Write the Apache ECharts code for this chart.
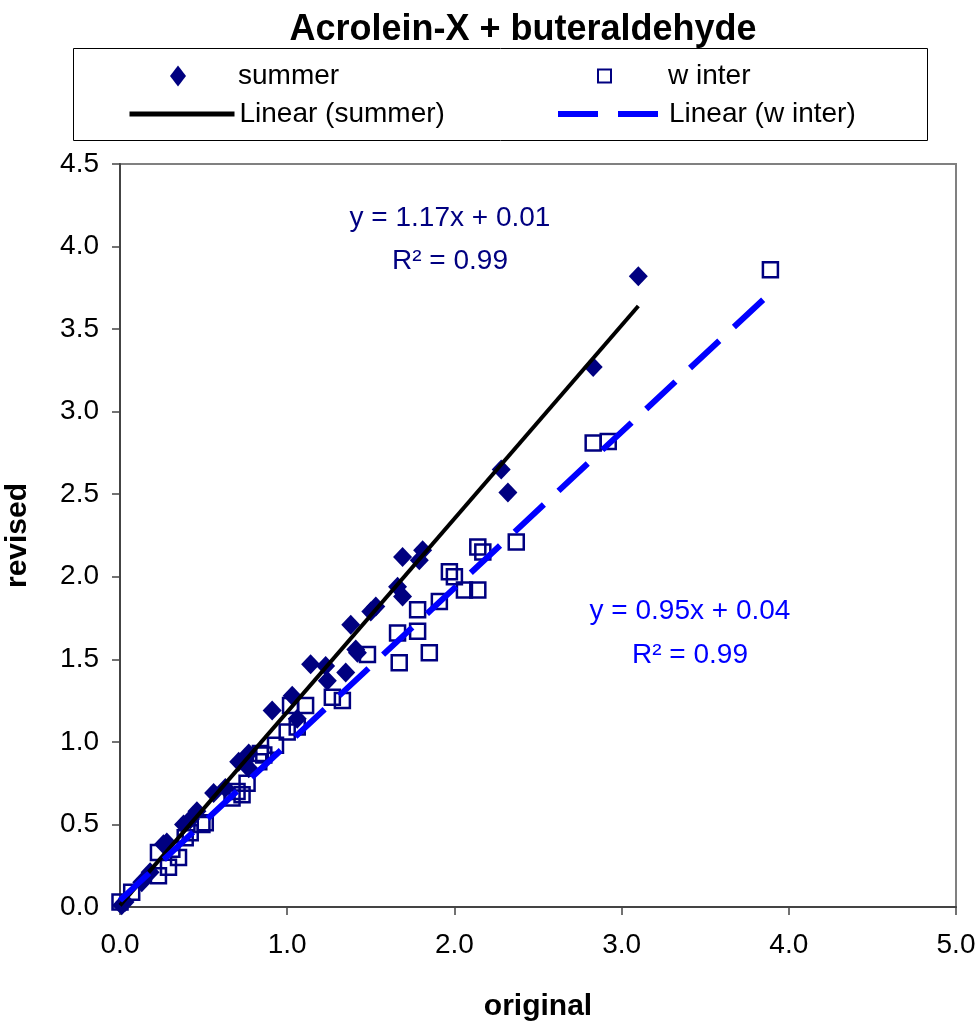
<!DOCTYPE html>
<html><head><meta charset="utf-8">
<script src="https://cdn.jsdelivr.net/npm/echarts@6/dist/echarts.min.js"></script>
<style>html,body{margin:0;padding:0;background:#fff}#c{width:978px;height:1022px}</style>
</head><body><div id="c"></div>
<script>
// ---- data ----
const chartTitle = 'Acrolein-X + buteraldehyde';
const seriesNames = ['summer', 'w inter', 'Linear (summer)', 'Linear (w inter)'];
const summer = [
  [0.01,0.01],[0.03,0.03],[0.13,0.15],[0.18,0.21],[0.26,0.38],[0.28,0.39],[0.38,0.50],
  [0.42,0.53],[0.46,0.58],[0.56,0.69],[0.63,0.72],[0.71,0.88],[0.77,0.84],[0.77,0.93],
  [0.91,1.19],[1.03,1.28],[1.06,1.14],[1.14,1.47],[1.23,1.46],[1.35,1.42],[1.24,1.37],
  [1.38,1.71],[1.41,1.56],[1.42,1.54],[1.53,1.82],[1.50,1.79],[1.69,1.88],[1.66,1.94],
  [1.69,2.12],[1.81,2.16],[1.79,2.10],[2.28,2.65],[2.32,2.51],[2.83,3.27],[3.10,3.82]
];
const winter = [
  [0.00,0.03],[0.07,0.09],[0.23,0.19],[0.29,0.24],[0.35,0.30],[0.31,0.35],[0.23,0.33],
  [0.39,0.42],[0.42,0.45],[0.49,0.50],[0.51,0.51],[0.67,0.66],[0.70,0.70],[0.73,0.68],
  [0.76,0.75],[0.83,0.88],[0.86,0.92],[0.84,0.93],[0.93,0.98],[1.00,1.06],[1.06,1.09],
  [1.02,1.22],[1.11,1.22],[1.27,1.27],[1.33,1.25],[1.48,1.53],[1.66,1.66],[1.67,1.48],
  [1.78,1.67],[1.78,1.80],[1.85,1.54],[1.91,1.85],[1.97,2.03],[2.00,2.00],[2.06,1.92],
  [2.14,1.92],[2.14,2.18],[2.17,2.15],[2.37,2.21],[2.83,2.81],[2.92,2.82],[3.89,3.86]
];
const summerTrend = [[0.00,0.01],[3.10,3.64]];
const winterTrend = [[0.00,0.04],[3.87,3.70]];
const summerEq = ['y = 1.17x + 0.01', 'R\u00b2 = 0.99'];
const winterEq = ['y = 0.95x + 0.04', 'R\u00b2 = 0.99'];
const xAxisName = 'original';
const yAxisName = 'revised';

const FONT = '"Liberation Sans", Arial, sans-serif';
const chart = echarts.init(document.getElementById('c'), null, {renderer: 'canvas'});

const legendText = {fontSize: 28, color: '#000', fontFamily: FONT};
const hiddenSym = {opacity: 0, color: 'rgba(0,0,0,0)', borderWidth: 0};
chart.setOption({
  animation: false,
  backgroundColor: '#fff',
  grid: {left: 120, right: 22, top: 164, bottom: 115, show: true, borderColor: '#808080', borderWidth: 2,
         backgroundColor: '#fff', containLabel: false, outerBoundsMode: 'none'},
  legend: [
    {data: [seriesNames[0]], left: 170, top: 62, padding: 0, itemWidth: 16, itemHeight: 21, selectedMode: false,
     textStyle: Object.assign({padding: [0,0,0,47]}, legendText)},
    {data: [seriesNames[1]], left: 597, top: 62, padding: 0, itemWidth: 13, itemHeight: 13, selectedMode: false,
     textStyle: Object.assign({padding: [0,0,0,52]}, legendText)},
    {data: [seriesNames[2]], left: 127, top: 100, padding: 0, itemWidth: 105, itemHeight: 20, selectedMode: false,
     lineStyle: {width: 5}, itemStyle: hiddenSym, textStyle: Object.assign({padding: [0,0,0,0]}, legendText)},
    {data: [seriesNames[3]], left: 555, top: 100, padding: 0, itemWidth: 100, itemHeight: 20, selectedMode: false,
     lineStyle: {width: 6}, itemStyle: hiddenSym, textStyle: Object.assign({padding: [0,0,0,6]}, legendText)}
  ],
  xAxis: {
    type: 'value', min: 0, max: 5, interval: 1,
    name: xAxisName, nameLocation: 'middle', nameGap: 85,
    nameTextStyle: {fontSize: 30, fontWeight: 'bold', color: '#000', fontFamily: FONT},
    axisLine: {show: true, onZero: false, lineStyle: {color: '#444', width: 2}},
    axisTick: {show: true, inside: false, length: 8, lineStyle: {color: '#444', width: 1.5}},
    axisLabel: {fontSize: 28, color: '#000', fontFamily: FONT, margin: 24, formatter: v => v.toFixed(1),
                showMinLabel: true, showMaxLabel: true},
    splitLine: {show: false}
  },
  yAxis: {
    type: 'value', min: 0, max: 4.5, interval: 0.5,
    name: yAxisName, nameLocation: 'middle', nameGap: 87, nameRotate: 90,
    nameTextStyle: {fontSize: 30, fontWeight: 'bold', color: '#000', fontFamily: FONT},
    axisLine: {show: true, onZero: false, lineStyle: {color: '#444', width: 2}},
    axisTick: {show: true, inside: false, length: 8, lineStyle: {color: '#444', width: 1.5}},
    axisLabel: {fontSize: 28, color: '#000', fontFamily: FONT, margin: 21, formatter: v => v.toFixed(1),
                showMinLabel: true, showMaxLabel: true},
    splitLine: {show: false}
  },
  series: [
    {name: seriesNames[0], type: 'scatter', data: summer, symbol: 'diamond', symbolSize: [19, 20],
     itemStyle: {color: '#000080', opacity: 1}, emphasis: {disabled: true}},
    {name: seriesNames[1], type: 'scatter', data: winter, symbol: 'rect', symbolSize: 15,
     itemStyle: {color: 'rgba(255,255,255,0)', borderColor: '#000080', borderWidth: 2.5, opacity: 1}, emphasis: {disabled: true}},
    {name: seriesNames[2], type: 'line', data: summerTrend, symbol: 'none', showSymbol: false,
     itemStyle: {color: '#000'}, lineStyle: {color: '#000', width: 4}, emphasis: {disabled: true}},
    {name: seriesNames[3], type: 'line', data: winterTrend, symbol: 'none', showSymbol: false,
     itemStyle: {color: '#0000ff'}, lineStyle: {color: '#0000ff', width: 6, type: [40, 20]}, emphasis: {disabled: true}}
  ],
  graphic: [
    {type: 'text', x: 523, y: 30, style: {text: chartTitle, fontSize: 36, fontWeight: 'bold', fill: '#000',
      fontFamily: FONT, align: 'center', verticalAlign: 'middle'}},
    {type: 'rect', shape: {x: 73.5, y: 48.5, width: 854, height: 92}, style: {fill: 'none', stroke: '#000', lineWidth: 1}},
    {type: 'text', x: 450, y: 218, style: {text: summerEq[0], fontSize: 28, fill: '#000080', fontFamily: FONT, align: 'center', verticalAlign: 'middle'}},
    {type: 'text', x: 450, y: 261, style: {text: summerEq[1], fontSize: 28, fill: '#000080', fontFamily: FONT, align: 'center', verticalAlign: 'middle'}},
    {type: 'text', x: 690, y: 611, style: {text: winterEq[0], fontSize: 28, fill: '#0000ff', fontFamily: FONT, align: 'center', verticalAlign: 'middle'}},
    {type: 'text', x: 690, y: 655, style: {text: winterEq[1], fontSize: 28, fill: '#0000ff', fontFamily: FONT, align: 'center', verticalAlign: 'middle'}}
  ]
});
</script>
</body></html>
